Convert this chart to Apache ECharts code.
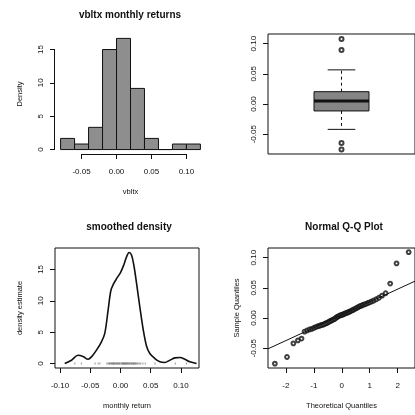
<!DOCTYPE html>
<html>
<head>
<meta charset="utf-8">
<script src="https://cdn.jsdelivr.net/npm/echarts@6/dist/echarts.min.js"></script>
<style>
html,body{margin:0;padding:0;background:#fff;}
#chart{width:415px;height:415px;}
</style>
</head>
<body>
<div id="chart"></div>
<script>
// ---------- data ----------
// Histogram (top-left)
const histBreaks = [-0.08, -0.06, -0.04, -0.02, 0.00, 0.02, 0.04, 0.06, 0.08, 0.10, 0.12];
const histDensity = [1.67, 0.83, 3.33, 15.0, 16.67, 9.17, 1.67, 0, 0.83, 0.83];
const histXTicks = [-0.05, 0.00, 0.05, 0.10];
const histYTicks = [0, 5, 10, 15];

// Boxplot (top-right): lower whisker, Q1, median, Q3, upper whisker
const boxStats = [-0.042, -0.0115, 0.005, 0.0204, 0.0565];
const boxOutliers = [-0.0755, -0.0646, 0.0895, 0.1075];
const quantileTicks = [-0.05, 0.00, 0.05, 0.10];

// Smoothed density (bottom-left)
const densityX = [-0.0922,-0.0811,-0.0702,-0.0619,-0.0536,-0.0480,-0.0397,-0.0315,-0.0260,-0.0205,-0.0160,-0.0120,-0.0060,0.0000,0.0050,0.0100,0.0143,0.0182,0.0220,0.0265,0.0320,0.0374,0.0430,0.0485,0.0568,0.0651,0.0733,0.0816,0.0899,0.0982,0.1065,0.1147,0.1258];
const densityY = [0,0.53,1.33,1.12,0.69,1.06,2.13,3.46,4.8,8.5,11.6,12.6,13.6,14.5,15.6,17.0,17.7,17.3,15.7,12.8,9.0,5.5,2.8,1.6,0.8,0.27,0.16,0.53,0.90,0.96,0.69,0.27,0];
const densityXTicks = [-0.10, -0.05, 0.00, 0.05, 0.10];
const densityYTicks = [0, 5, 10, 15];

// Sorted monthly returns (sample quantiles) and normal theoretical quantiles
const returnsSorted = [-0.0755,-0.0646,-0.0420,-0.0370,-0.0340,-0.0225,-0.0205,
  -0.0190,-0.0180,-0.0165,-0.0150,-0.0140,-0.0130,-0.0120,-0.0115,-0.0105,-0.0095,-0.0085,-0.0072,-0.0062,-0.0050,-0.0040,-0.0030,-0.0018,-0.0008,
  0.0010,0.0022,0.0032,0.0042,0.0048,0.0055,0.0062,0.0072,0.0080,0.0088,0.0095,0.0105,0.0115,0.0125,0.0135,0.0148,0.0158,0.0170,0.0182,0.0195,
  0.0205,0.0215,0.0225,0.0235,0.0248,0.0260,0.0275,0.0290,0.0310,0.0335,0.0370,
  0.0410,0.0570,0.0905,0.1090];
const theoreticalQuantiles = [-2.394,-1.960,-1.732,-1.569,-1.440,-1.331,-1.235,-1.150,-1.073,-1.001,-0.935,-0.872,-0.812,-0.755,-0.701,-0.649,-0.598,-0.549,-0.501,-0.454,-0.408,-0.363,-0.319,-0.276,-0.233,-0.189,-0.147,-0.105,-0.063,-0.021,
  0.021,0.063,0.105,0.147,0.189,0.233,0.276,0.319,0.363,0.408,0.454,0.501,0.549,0.598,0.649,0.701,0.755,0.812,0.872,0.935,1.001,1.073,1.150,1.235,1.331,1.440,1.569,1.732,1.960,2.394];
const qqXTicks = [-2, -1, 0, 1, 2];
const qqLineIntercept = 0.0052;
const qqLineSlope = 0.0213;

// ---------- chart ----------
const FONT = '"Liberation Sans", Arial, Helvetica, sans-serif';
const INK = '#111';
const chart = echarts.init(document.getElementById('chart'), null, {renderer: 'canvas'});

const qqXMin = -2.64, qqXMax = 2.62;

function xAxisCfg(gi, min, max, ticks, fmt, name) {
  return {
    type: 'value', gridIndex: gi, min: min, max: max, position: 'bottom',
    name: name || '', nameLocation: 'middle', nameGap: 34,
    nameTextStyle: {fontFamily: FONT, fontSize: 7.5, color: INK},
    axisLine: {show: false, onZero: false},
    axisTick: {show: true, length: 5, inside: false, customValues: ticks, lineStyle: {color: INK, width: 1}},
    axisLabel: {show: true, customValues: ticks, formatter: fmt, margin: 14,
      fontFamily: FONT, fontSize: 8, color: INK},
    splitLine: {show: false}
  };
}
function yAxisCfg(gi, min, max, ticks, fmt, name, gap) {
  return {
    type: 'value', gridIndex: gi, min: min, max: max, position: 'left',
    name: name || '', nameLocation: 'middle', nameGap: gap,
    nameRotate: 90,
    nameTextStyle: {fontFamily: FONT, fontSize: 7.5, color: INK},
    axisLine: {show: false, onZero: false},
    axisTick: {show: true, length: 5, inside: false, customValues: ticks, lineStyle: {color: INK, width: 1}},
    axisLabel: {show: true, customValues: ticks, formatter: fmt, margin: 10, rotate: 90,
      fontFamily: FONT, fontSize: 8, color: INK},
    splitLine: {show: false}
  };
}
const f2 = v => Number(v).toFixed(2);
const f0 = v => String(Math.round(v));

// custom renderer for a partial axis line (R style: from first to last tick)
function axisSegment(horizontal) {
  return function (params, api) {
    const cs = params.coordSys;
    const a = api.value(0), b = api.value(1);
    if (horizontal) {
      const xa = api.coord([a, 0])[0], xb = api.coord([b, 0])[0];
      const y = cs.y + cs.height + 0.5;
      return {type: 'line', shape: {x1: xa, y1: y, x2: xb, y2: y}, style: {stroke: INK, lineWidth: 1}};
    } else {
      const ya = api.coord([0, a])[1], yb = api.coord([0, b])[1];
      const x = cs.x - 0.5;
      return {type: 'line', shape: {x1: x, y1: ya, x2: x, y2: yb}, style: {stroke: INK, lineWidth: 1}};
    }
  };
}

const histData = histDensity.map((d, i) => [histBreaks[i], histBreaks[i + 1], d]);
const boxHalf = 0.187, stapleHalf = 0.094;

const option = {
  animation: false,
  backgroundColor: '#fff',
  title: [
    {text: 'vbltx monthly returns', left: 130, top: 10, textAlign: 'center', padding: 0,
     textStyle: {fontFamily: FONT, fontSize: 10, fontWeight: 'bold', color: INK}},
    {text: 'smoothed density', left: 129, top: 222, textAlign: 'center', padding: 0,
     textStyle: {fontFamily: FONT, fontSize: 10, fontWeight: 'bold', color: INK}},
    {text: 'Normal Q-Q Plot', left: 344, top: 222, textAlign: 'center', padding: 0,
     textStyle: {fontFamily: FONT, fontSize: 10, fontWeight: 'bold', color: INK}}
  ],
  grid: [
    {left: 55, top: 34, width: 151, height: 120, show: false, containLabel: false},
    {left: 268, top: 34, width: 152, height: 120, show: true, borderColor: INK, borderWidth: 1, backgroundColor: 'transparent'},
    {left: 55, top: 248, width: 144, height: 120, show: true, borderColor: INK, borderWidth: 1, backgroundColor: 'transparent'},
    {left: 268, top: 248, width: 152, height: 120, show: true, borderColor: INK, borderWidth: 1, backgroundColor: 'transparent'}
  ],
  xAxis: [
    xAxisCfg(0, -0.088, 0.128, histXTicks, f2, 'vbltx'),
    {type: 'value', gridIndex: 1, min: 0.5, max: 1.5, show: false},
    xAxisCfg(2, -0.1083, 0.1298, densityXTicks, f2, 'monthly return'),
    xAxisCfg(3, qqXMin, qqXMax, qqXTicks, f0, 'Theoretical Quantiles')
  ],
  yAxis: [
    yAxisCfg(0, -0.667, 17.33, histYTicks, f0, 'Density', 31),
    yAxisCfg(1, -0.0828, 0.1159, quantileTicks, f2, '', 28),
    yAxisCfg(2, -0.71, 18.41, densityYTicks, f0, 'density estimate', 31),
    yAxisCfg(3, -0.0828, 0.1159, quantileTicks, f2, 'Sample Quantiles', 27)
  ],
  series: [
    // histogram bars
    {
      type: 'custom', xAxisIndex: 0, yAxisIndex: 0, data: histData,
      encode: {x: [0, 1], y: 2}, clip: false,
      renderItem: function (params, api) {
        const p0 = api.coord([api.value(0), api.value(2)]);
        const p1 = api.coord([api.value(1), 0]);
        return {type: 'rect', shape: {x: p0[0], y: p0[1], width: p1[0] - p0[0], height: p1[1] - p0[1]},
          style: {fill: '#8e8e8e', stroke: INK, lineWidth: 1}};
      }
    },
    // histogram axis lines
    {type: 'custom', xAxisIndex: 0, yAxisIndex: 0, clip: false, silent: true,
     data: [[histXTicks[0], histXTicks[histXTicks.length - 1]]], encode: {x: [0, 1]},
     renderItem: axisSegment(true)},
    {type: 'custom', xAxisIndex: 0, yAxisIndex: 0, clip: false, silent: true,
     data: [[histYTicks[0], histYTicks[histYTicks.length - 1]]], encode: {y: [0, 1]},
     renderItem: axisSegment(false)},
    // boxplot
    {
      type: 'custom', xAxisIndex: 1, yAxisIndex: 1, clip: false,
      data: [[1].concat(boxStats)], encode: {x: 0, y: [1, 2, 3, 4, 5]},
      renderItem: function (params, api) {
        const x = api.value(0);
        const lw = api.value(1), q1 = api.value(2), med = api.value(3), q3 = api.value(4), hw = api.value(5);
        const tl = api.coord([x - boxHalf, q3]), br = api.coord([x + boxHalf, q1]);
        const cx = api.coord([x, 0])[0];
        const yMed = api.coord([x, med])[1];
        const yLw = api.coord([x, lw])[1], yHw = api.coord([x, hw])[1];
        const sL = api.coord([x - stapleHalf, 0])[0], sR = api.coord([x + stapleHalf, 0])[0];
        return {type: 'group', children: [
          {type: 'line', shape: {x1: cx, y1: tl[1], x2: cx, y2: yHw}, style: {stroke: INK, lineWidth: 1, lineDash: [3, 3]}},
          {type: 'line', shape: {x1: cx, y1: br[1], x2: cx, y2: yLw}, style: {stroke: INK, lineWidth: 1, lineDash: [3, 3]}},
          {type: 'line', shape: {x1: sL, y1: yHw, x2: sR, y2: yHw}, style: {stroke: INK, lineWidth: 1}},
          {type: 'line', shape: {x1: sL, y1: yLw, x2: sR, y2: yLw}, style: {stroke: INK, lineWidth: 1}},
          {type: 'rect', shape: {x: tl[0], y: tl[1], width: br[0] - tl[0], height: br[1] - tl[1]},
           style: {fill: '#858585', stroke: INK, lineWidth: 1}},
          {type: 'line', shape: {x1: tl[0], y1: yMed, x2: br[0], y2: yMed}, style: {stroke: INK, lineWidth: 3}}
        ]};
      }
    },
    {
      type: 'scatter', xAxisIndex: 1, yAxisIndex: 1,
      data: boxOutliers.map(v => [1, v]),
      symbol: 'emptyCircle', symbolSize: 4,
      itemStyle: {color: INK, borderColor: '#333', borderWidth: 1}
    },
    // density curve
    {
      type: 'line', xAxisIndex: 2, yAxisIndex: 2,
      data: densityX.map((x, i) => [x, densityY[i]]),
      smooth: 0.35, showSymbol: false, symbol: 'none',
      lineStyle: {color: INK, width: 1.6}
    },
    // rug of observations along zero
    {
      type: 'scatter', xAxisIndex: 2, yAxisIndex: 2,
      data: returnsSorted.map(v => [v, 0]),
      symbol: 'rect', symbolSize: [1, 2],
      itemStyle: {color: '#777'}
    },
    // QQ points
    {
      type: 'scatter', xAxisIndex: 3, yAxisIndex: 3,
      data: theoreticalQuantiles.map((q, i) => [q, returnsSorted[i]]),
      symbol: 'emptyCircle', symbolSize: 3.8,
      itemStyle: {color: INK, borderColor: '#333', borderWidth: 0.8}
    },
    // QQ reference line
    {
      type: 'line', xAxisIndex: 3, yAxisIndex: 3,
      data: [[qqXMin, qqLineIntercept + qqLineSlope * qqXMin], [qqXMax, qqLineIntercept + qqLineSlope * qqXMax]],
      showSymbol: false, symbol: 'none',
      lineStyle: {color: INK, width: 1}
    }
  ]
};
chart.setOption(option);
</script>
</body>
</html>
